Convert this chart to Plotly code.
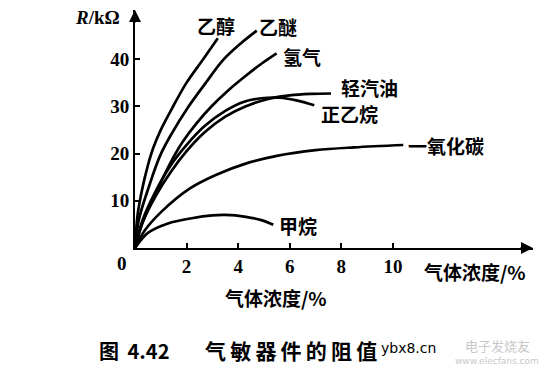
import plotly.graph_objects as go

# ---- data (gas concentration % vs resistance kOhm) ----
ethanol_x = [0, 0.1, 0.28, 0.5, 0.71, 1.0, 1.48, 2.0, 2.65, 3.21]
ethanol_y = [0, 7.0, 12.5, 17.5, 21.2, 25.0, 30.0, 35.0, 40.0, 44.4]

ether_x = [0, 0.15, 0.54, 0.97, 1.4, 2.07, 2.75, 3.42, 4.1, 4.72]
ether_y = [0, 6.0, 13.0, 19.5, 24.0, 29.9, 35.0, 39.8, 43.3, 46.0]

hydrogen_x = [0, 0.3, 0.88, 1.47, 1.85, 2.4, 2.97, 3.6, 4.26, 4.9, 5.49]
hydrogen_y = [0, 5.5, 12.5, 19.0, 22.5, 26.5, 30.0, 33.3, 36.3, 39.0, 41.2]

gasoline_x = [0, 0.3, 0.8, 1.4, 2.0, 2.7, 3.5, 4.3, 5.2, 6.0, 6.8, 7.6]
gasoline_y = [0, 5.5, 11.0, 16.2, 20.5, 24.5, 27.8, 30.0, 31.6, 32.3, 32.6, 32.7]

hexane_x = [0, 0.3, 0.8, 1.35, 2.0, 2.7, 3.5, 4.2, 4.9, 5.6, 6.3, 6.95]
hexane_y = [0, 6.0, 12.0, 17.2, 21.8, 25.8, 29.0, 30.9, 31.7, 31.8, 31.2, 30.2]

co_x = [0, 0.39, 1.03, 2.13, 3.2, 4.26, 5.5, 7.0, 8.5, 10.4]
co_y = [0, 3.8, 7.7, 12.6, 15.6, 17.8, 19.5, 20.7, 21.3, 21.8]

methane_x = [0, 0.5, 1.28, 2.2, 3.0, 3.5, 4.3, 4.9, 5.36]
methane_y = [0, 3.2, 5.2, 6.3, 6.9, 7.0, 6.6, 5.9, 4.9]

series = [
    ("乙醇", ethanol_x, ethanol_y),
    ("乙醚", ether_x, ether_y),
    ("氢气", hydrogen_x, hydrogen_y),
    ("轻汽油", gasoline_x, gasoline_y),
    ("正乙烷", hexane_x, hexane_y),
    ("一氧化碳", co_x, co_y),
    ("甲烷", methane_x, methane_y),
]

x_ticks = [2, 4, 6, 8, 10]
y_ticks = [10, 20, 30, 40]

CJK = "Noto Sans CJK SC"
SERIF = "Liberation Serif"

W, H = 557, 376
ML, MR, MT, MB = 135, 24, 10, 128
PW, PH = W - ML - MR, H - MT - MB

fig = go.Figure()
for name, xs, ys in series:
    fig.add_trace(go.Scatter(
        x=xs, y=ys, mode="lines", name=name,
        line=dict(color="black", width=2.7, shape="spline", smoothing=1.0),
        cliponaxis=False, showlegend=False,
    ))

XMAX = 15.43
YMAX = 50.37

fig.update_layout(
    width=W, height=H,
    margin=dict(l=ML, r=MR, t=MT, b=MB),
    paper_bgcolor="white", plot_bgcolor="white",
    xaxis=dict(range=[0, XMAX], showgrid=False, zeroline=False,
               showline=True, linecolor="black", linewidth=2,
               ticks="inside", ticklen=5, tickwidth=1.5, tickcolor="black",
               tickvals=x_ticks, ticktext=[str(v) for v in x_ticks],
               tickfont=dict(family=SERIF, size=19, color="black", weight="bold")),
    yaxis=dict(range=[0, YMAX], showgrid=False, zeroline=False,
               showline=True, linecolor="black", linewidth=2,
               ticks="inside", ticklen=5, tickwidth=1.5, tickcolor="black",
               tickvals=y_ticks, ticktext=[str(v) for v in y_ticks],
               tickfont=dict(family=SERIF, size=19, color="black", weight="bold")),
)

ann = []
# axis arrowheads
ann.append(dict(x=XMAX, y=0, xref="x", yref="y", ax=-14, ay=0, text="",
                showarrow=True, arrowhead=2, arrowsize=1.2, arrowwidth=2, arrowcolor="black"))
ann.append(dict(x=0, y=YMAX, xref="x", yref="y", ax=0, ay=14, text="",
                showarrow=True, arrowhead=2, arrowsize=1.2, arrowwidth=2, arrowcolor="black"))

def lab(text, px, py, size=19, family=CJK, bold=True, color="black", xanchor="center"):
    ann.append(dict(x=(px - ML) / PW, y=(H - MB - py) / PH, xref="paper", yref="paper",
                    text=f"<b>{text}</b>" if bold else text, showarrow=False,
                    xanchor=xanchor, yanchor="middle",
                    font=dict(family=family, size=size, color=color)))

# curve labels
lab("乙醇", 216, 26)
lab("乙醚", 278, 27)
lab("氢气", 302, 57)
lab("轻汽油", 369, 88)
lab("正乙烷", 349, 113)
lab("一氧化碳", 406, 145, xanchor="left")
lab("甲烷", 298, 225)

# axis titles / origin
lab("<i>R</i>/kΩ", 97, 17, size=19, family=SERIF)
lab("0", 122, 263, size=19, family=SERIF)
lab("气体浓度/%", 475, 271, size=19)
lab("气体浓度/%", 276, 297, size=19)

# caption
T = "\u2009"
lab("图\u00a0\u2009" + "4.42", 97, 350, size=20, xanchor="left")
lab(T.join("气敏器件的阻值"), 203, 350, size=21, xanchor="left")

# watermark
lab("ybx8.cn", 408, 348, size=14, family="DejaVu Sans", bold=False)
lab("电子发烧友", 497, 345, size=13, bold=False, color="#c8c8c8")
lab("www.elecfans.com", 497, 361, size=9, family="DejaVu Sans", bold=False, color="#c8c8c8")

fig.update_layout(annotations=ann)
fig.write_html("out.html")
